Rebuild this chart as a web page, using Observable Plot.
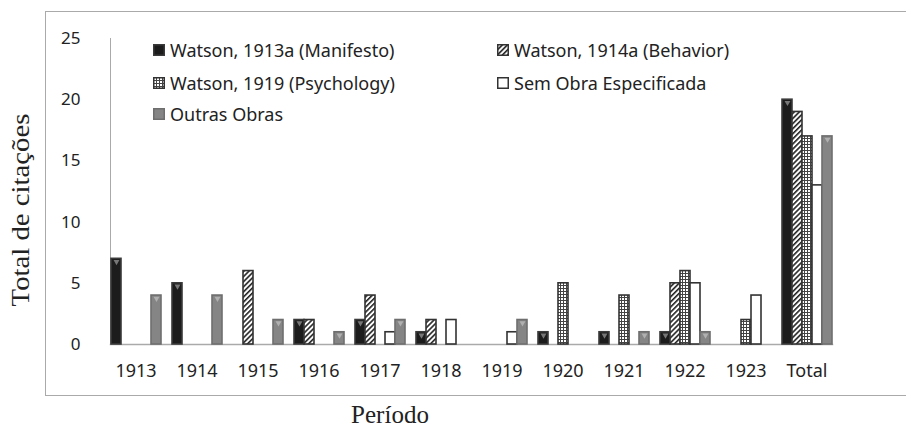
<!DOCTYPE html>
<html><head><meta charset="utf-8">
<script src="https://cdn.jsdelivr.net/npm/d3@7"></script>
<script src="https://cdn.jsdelivr.net/npm/@observablehq/plot@0.6"></script>
<style>
body{margin:0;background:#fff;}
#wrap{position:relative;width:906px;height:427px;overflow:hidden;font-family:"Noto Sans",sans-serif;color:#222;}
#border{position:absolute;left:45px;top:11px;width:880px;height:385px;border:1px solid #aaa;box-sizing:border-box;}
#chart{position:absolute;left:0;top:0;}
#ytitle{position:absolute;left:21px;top:210px;transform:translate(-50%,-50%) rotate(-90deg) scale(1.15,1);font-family:"Liberation Serif",serif;font-size:25px;white-space:nowrap;}
#xtitle{position:absolute;left:390px;top:415px;transform:translate(-50%,-50%);font-family:"Liberation Serif",serif;font-size:25px;line-height:26px;white-space:nowrap;}
.leg{position:absolute;font-size:18px;line-height:22px;white-space:nowrap;display:flex;align-items:center;}
.leg svg{margin-right:5px;}
</style></head><body>
<svg width="0" height="0" style="position:absolute">
 <defs>
  <pattern id="hatch" patternUnits="userSpaceOnUse" width="3.6" height="3.6" patternTransform="rotate(45)">
   <rect width="3.6" height="3.6" fill="#fff"/>
   <rect width="1.6" height="3.6" fill="#222"/>
  </pattern>
  <pattern id="grid" patternUnits="userSpaceOnUse" width="3" height="3">
   <rect width="3" height="3" fill="#444"/>
   <rect x="1" y="1" width="2" height="2" fill="#fff"/>
  </pattern>
 </defs>
</svg>
<div id="wrap"><div id="border"></div><div id="chart"></div>
<div id="ytitle">Total de citações</div><div id="xtitle">Período</div>
<div id="legend"></div>
</div>
<script>
const periods = ["1913","1914","1915","1916","1917","1918","1919","1920","1921","1922","1923","Total"];
const seriesNames = ["Watson, 1913a (Manifesto)","Watson, 1914a (Behavior)","Watson, 1919 (Psychology)","Sem Obra Especificada","Outras Obras"];
const manifesto  = [7,5,0,2,2,1,0,1,1,1,0,20];
const behavior   = [0,0,6,2,4,2,0,0,0,5,0,19];
const psychology = [0,0,0,0,0,0,0,5,4,6,2,17];
const semObra    = [0,0,0,0,1,2,1,0,0,5,4,13];
const outras     = [4,4,2,1,2,0,2,0,1,1,0,17];
const yTicks = [0,5,10,15,20,25];

const seriesValues = [manifesto, behavior, psychology, semObra, outras];
const styles = [
  {fill:"#1c1c1c", stroke:"#3a3a3a"},
  {fill:"url(#hatch)", stroke:"#333"},
  {fill:"url(#grid)", stroke:"#333"},
  {fill:"#fff", stroke:"#333"},
  {fill:"#858585", stroke:"#6e6e6e"}
];
const rows = [];
seriesValues.forEach((vals, si) => vals.forEach((v, i) => {
  if (v > 0) rows.push({period: periods[i], series: seriesNames[si], value: v, si});
}));

const marks = [
  Plot.frame({anchor:"bottom", stroke:"#aaa", strokeWidth:1.5, facet:"super"}),
  Plot.frame({anchor:"left", stroke:"#aaa", facet:"super"}),
  Plot.axisY({ticks:yTicks, tickSize:0, tickPadding:30, fontSize:17, label:null}),
  Plot.axisFx({anchor:"bottom", tickSize:0, tickPadding:20, fontSize:18, label:null})
];
styles.forEach((s, si) => {
  marks.push(Plot.barY(rows.filter(d => d.si === si), {fx:"period", x:"series", y:"value", fill:s.fill, stroke:s.stroke, strokeWidth:1.6}));
});
[[0,"#777"],[4,"#b0b0b0"]].forEach(([si,c]) => {
  marks.push(Plot.dot(rows.filter(d => d.si === si), {fx:"period", x:"series", y:"value", symbol:"triangle", rotate:180, r:2.2, fill:c, stroke:"none", dy:3}));
});

const chart = Plot.plot({
  width:906, height:427,
  marginLeft:100, marginRight:65, marginTop:38, marginBottom:83,
  style:{fontFamily:"'Noto Sans', sans-serif", color:"#222", background:"transparent"},
  fx:{domain:periods, paddingInner:0.17, paddingOuter:0.08, label:null},
  x:{domain:seriesNames, padding:0, axis:null},
  y:{domain:[0,25], axis:null},
  marks
});
document.getElementById("chart").appendChild(chart);

// legend
const legPos = [[153,50],[497,50],[153,83],[497,83],[153,114]];
const legend = document.getElementById("legend");
seriesNames.forEach((name, i) => {
  const div = document.createElement("div");
  div.className = "leg";
  div.style.left = legPos[i][0] + "px";
  div.style.top = (legPos[i][1] - 11) + "px";
  div.innerHTML = `<svg width="12" height="12"><rect x="0.75" y="0.75" width="10.5" height="10.5" fill="${styles[i].fill}" stroke="${styles[i].stroke}" stroke-width="1.5"/></svg><span>${name}</span>`;
  legend.appendChild(div);
});
</script>
</body></html>
